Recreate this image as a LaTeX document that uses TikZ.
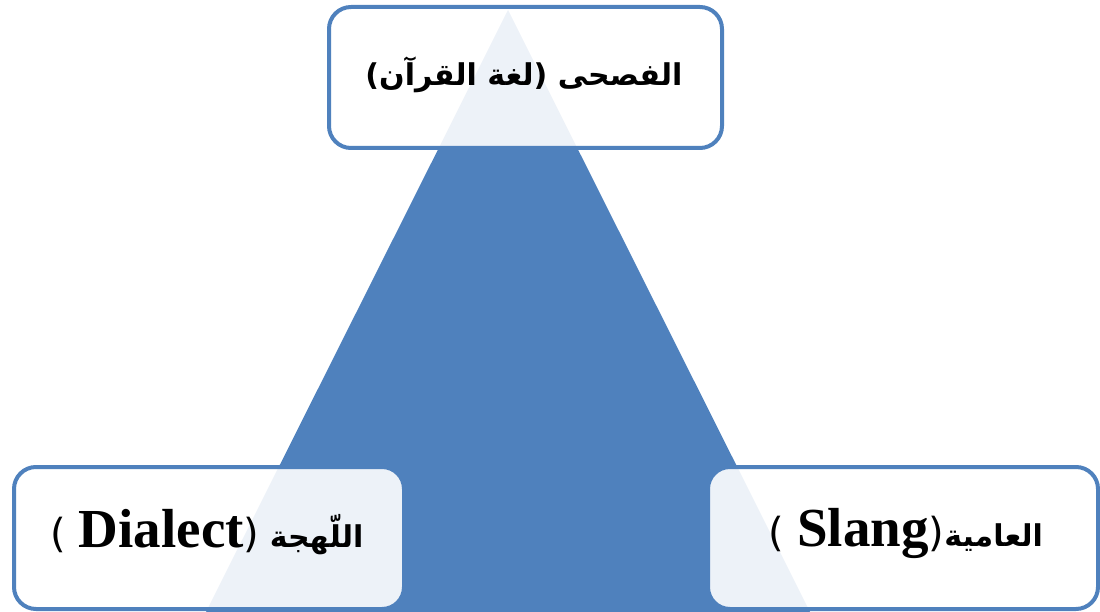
\documentclass[tikz,border=0pt]{standalone}
\usepackage{fontspec}
\setmainfont{Liberation Serif}
\newfontfamily\arabicfont[Script=Arabic]{DejaVu Sans}
\newfontfamily\latinfont{Liberation Serif}
\TeXXeTstate=1
\definecolor{office}{HTML}{4F81BD}
\newcommand{\arfont}{\arabicfont\bfseries\fontsize{30}{36}\selectfont}
\newcommand{\lat}[1]{\hbox{\latinfont\bfseries\fontsize{55}{62}\selectfont #1}}
\newcommand{\prn}[1]{{\arabicfont\mdseries\fontsize{40}{46}\selectfont #1}}
\begin{document}
\begin{tikzpicture}[x=1pt,y=-1pt,
  box/.style={draw=office, line width=4pt, rounded corners=22pt, fill=white,
    fill opacity=0.9, text opacity=1, anchor=north west, inner sep=0pt,
    minimum width=390pt, minimum height=142pt},
  label/.style={inner sep=0pt, font=\arfont}]
\useasboundingbox (0,0) rectangle (1100,612);
\fill[office] (508,10) -- (206,612) -- (810,612) -- cycle;
\node[box, minimum width=393pt, minimum height=141pt] (top) at (327,5) {};
\node[box] (left) at (12,465) {};
\node[box] (right) at (706,465) {};
\node[label] (toptext) at (524,75) {\beginR الفصحى (لغة القرآن)\endR};
\node[label] (lefttext) at (207,532) {\beginR اللّهجة \prn{(}\lat{Dialect}\prn{ )}\endR};
\node[label] (righttext) at (906,533) {\beginR العامية\prn{(}\lat{Slang}\prn{ )}\endR};
\end{tikzpicture}
\end{document}
